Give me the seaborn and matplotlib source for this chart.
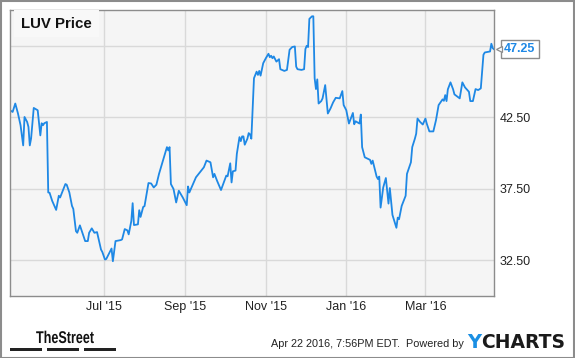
import matplotlib
matplotlib.use("Agg")
import matplotlib.pyplot as plt
import matplotlib.transforms as mtransforms
from matplotlib.patches import Rectangle, PathPatch
from matplotlib.textpath import TextPath
from matplotlib.font_manager import FontProperties
import pandas as pd
import seaborn as sns

# ---------------- data ----------------
dates = [
    "2015-04-21", "2015-04-23", "2015-04-25", "2015-04-27", "2015-04-29", "2015-05-01", "2015-05-02",
    "2015-05-04", "2015-05-05", "2015-05-06", "2015-05-07", "2015-05-09", "2015-05-12", "2015-05-14",
    "2015-05-15", "2015-05-16", "2015-05-17", "2015-05-19", "2015-05-20", "2015-05-21", "2015-05-23",
    "2015-05-26", "2015-05-28", "2015-05-29", "2015-06-02", "2015-06-03", "2015-06-05", "2015-06-07",
    "2015-06-08", "2015-06-10", "2015-06-11", "2015-06-13", "2015-06-14", "2015-06-17", "2015-06-19",
    "2015-06-20", "2015-06-22", "2015-06-24", "2015-06-26", "2015-06-29", "2015-06-30", "2015-07-02",
    "2015-07-03", "2015-07-07", "2015-07-08", "2015-07-10", "2015-07-14", "2015-07-15", "2015-07-17",
    "2015-07-19", "2015-07-20", "2015-07-22", "2015-07-23", "2015-07-24", "2015-07-27", "2015-07-28",
    "2015-07-29", "2015-07-31", "2015-08-01", "2015-08-04", "2015-08-06", "2015-08-08", "2015-08-10",
    "2015-08-12", "2015-08-18", "2015-08-19", "2015-08-20", "2015-08-21", "2015-08-23", "2015-08-25",
    "2015-08-27", "2015-08-30", "2015-09-01", "2015-09-02", "2015-09-03", "2015-09-04", "2015-09-09",
    "2015-09-12", "2015-09-15", "2015-09-17", "2015-09-20", "2015-09-22", "2015-09-23", "2015-09-25",
    "2015-09-28", "2015-10-02", "2015-10-03", "2015-10-05", "2015-10-06", "2015-10-07", "2015-10-09",
    "2015-10-10", "2015-10-12", "2015-10-13", "2015-10-14", "2015-10-15", "2015-10-16", "2015-10-18",
    "2015-10-19", "2015-10-20", "2015-10-21", "2015-10-23", "2015-10-25", "2015-10-26", "2015-10-27",
    "2015-10-28", "2015-10-30", "2015-11-01", "2015-11-03", "2015-11-04", "2015-11-05", "2015-11-06",
    "2015-11-07", "2015-11-09", "2015-11-11", "2015-11-12", "2015-11-15", "2015-11-17", "2015-11-19",
    "2015-11-21", "2015-11-23", "2015-11-24", "2015-11-25", "2015-11-28", "2015-11-30", "2015-12-01",
    "2015-12-02", "2015-12-03", "2015-12-04", "2015-12-06", "2015-12-07", "2015-12-08", "2015-12-09",
    "2015-12-10", "2015-12-11", "2015-12-13", "2015-12-14", "2015-12-16", "2015-12-18", "2015-12-20",
    "2015-12-22", "2015-12-24", "2015-12-27", "2015-12-29", "2015-12-30", "2016-01-01", "2016-01-03",
    "2016-01-06", "2016-01-07", "2016-01-08", "2016-01-11", "2016-01-12", "2016-01-13", "2016-01-15",
    "2016-01-19", "2016-01-20", "2016-01-21", "2016-01-24", "2016-01-25", "2016-01-26", "2016-01-27",
    "2016-01-29", "2016-01-31", "2016-02-02", "2016-02-03", "2016-02-05", "2016-02-08", "2016-02-09",
    "2016-02-10", "2016-02-12", "2016-02-15", "2016-02-16", "2016-02-19", "2016-02-20", "2016-02-22",
    "2016-02-23", "2016-02-24", "2016-02-26", "2016-02-28", "2016-03-01", "2016-03-02", "2016-03-04",
    "2016-03-07", "2016-03-09", "2016-03-11", "2016-03-14", "2016-03-15", "2016-03-16", "2016-03-17",
    "2016-03-18", "2016-03-20", "2016-03-22", "2016-03-23", "2016-03-27", "2016-03-29", "2016-03-31",
    "2016-04-03", "2016-04-04", "2016-04-06", "2016-04-08", "2016-04-10", "2016-04-12", "2016-04-14",
    "2016-04-15", "2016-04-19", "2016-04-20", "2016-04-21", "2016-04-22",
]
prices = [
    42.99, 42.87, 43.46, 42.78, 41.94, 40.53, 42.52,
    42.17, 41.82, 40.53, 41.02, 43.15, 42.99, 41.23,
    42.08, 41.94, 42.08, 42.17, 37.24, 37.22, 36.65,
    36.02, 37.01, 36.89, 37.83, 37.78, 37.24, 36.30,
    36.09, 34.54, 34.42, 34.94, 34.66, 33.84, 33.84,
    34.42, 34.73, 34.42, 34.47, 33.25, 33.08, 32.55,
    32.59, 33.32, 32.43, 33.84, 33.91, 33.96, 34.68,
    34.59, 34.31, 35.25, 36.49, 34.96, 35.01, 36.00,
    35.53, 36.23, 36.28, 37.90, 37.87, 37.59, 37.78,
    38.54, 40.41, 40.18, 40.41, 37.83, 37.48, 36.54,
    37.36, 36.89, 36.54, 36.35, 37.66, 37.24, 38.30,
    38.65, 39.00, 39.47, 39.35, 38.30, 38.54, 38.06,
    37.41, 38.42, 38.37, 39.28, 37.94, 38.72, 38.77,
    39.94, 41.11, 40.83, 41.16, 41.16, 40.58, 41.00,
    41.39, 41.30, 41.00, 45.23, 45.69, 45.46, 45.74,
    45.41, 46.28, 46.63, 46.94, 46.70, 46.80, 46.63,
    46.75, 46.39, 46.56, 45.86, 45.74, 45.81, 47.22,
    47.41, 47.45, 46.04, 45.86, 45.81, 45.86, 47.27,
    47.50, 47.41, 49.38, 49.56, 49.56, 45.23, 44.47,
    45.15, 43.46, 43.63, 43.82, 44.75, 42.76, 43.11,
    43.54, 43.86, 43.82, 44.33, 43.35, 42.99, 42.06,
    42.80, 42.01, 42.22, 42.06, 42.69, 40.41, 39.70,
    39.52, 39.24, 39.47, 38.35, 38.18, 38.35, 36.18,
    37.59, 38.25, 36.46, 37.55, 35.67, 34.77, 35.48,
    35.37, 36.30, 37.01, 38.54, 39.35, 40.41, 41.00,
    41.35, 42.41, 42.17, 41.99, 42.41, 42.06, 41.51,
    41.51, 42.29, 43.35, 43.75, 43.65, 44.05, 43.63,
    44.45, 44.94, 44.45, 44.10, 43.82, 44.94, 44.59,
    44.28, 43.63, 43.63, 44.47, 44.40, 44.52, 46.87,
    47.03, 47.10, 47.64, 47.34, 47.25,
]
y_ticks = [32.5, 37.5, 42.5, 47.5]
# the 47.50 label is hidden behind the last-value box in the reference
y_tick_labels = ["32.50", "37.50", "42.50", ""]
x_ticks = ["2015-07-01", "2015-09-01", "2015-11-01", "2016-01-01", "2016-03-01"]
x_tick_labels = ["Jul '15", "Sep '15", "Nov '15", "Jan '16", "Mar '16"]
title = "LUV Price"
last_label = "47.25"
footer_text = "Apr 22 2016, 7:56PM EDT.  Powered by"

df = pd.DataFrame({"date": pd.to_datetime(dates), "price": prices})

# ---------------- style ----------------
sns.set_style("white", rc={
    "axes.facecolor": "#f5f5f5",
    "grid.color": "#d9d9d9",
    "axes.edgecolor": "#8c8c8c",
})
plt.rcParams["font.family"] = ["Liberation Sans", "DejaVu Sans"]

W, H = 575, 358
fig = plt.figure(figsize=(W / 100, H / 100), dpi=100)
fig.patch.set_facecolor("white")
ax = fig.add_axes([10 / W, 1 - 296 / H, 484 / W, 286 / H])

line_color = "#1e88e5"
sns.lineplot(data=df, x="date", y="price", ax=ax, color=line_color,
             linewidth=1.3, legend=False)

ax.set_xlim(pd.Timestamp(dates[0]), pd.Timestamp(dates[-1]))
ax.set_ylim(30, 50)

ax.set_yticks(y_ticks)
ax.set_yticklabels(y_tick_labels)
ax.yaxis.tick_right()
ax.set_xticks(pd.to_datetime(x_ticks))
ax.set_xticklabels(x_tick_labels)
ax.tick_params(axis="both", length=0, labelsize=9, colors="#222222")
ax.tick_params(axis="y", pad=4)
ax.tick_params(axis="x", pad=3.5)
ax.grid(True, color="#d9d9d9", linewidth=1.0)
ax.set_axisbelow(True)
ax.set_xlabel("")
ax.set_ylabel("")
for s in ax.spines.values():
    s.set_visible(True)
    s.set_color("#8c8c8c")
    s.set_linewidth(1.0)

# title inside the plot
ax.text(11 / 484, 1 - 13.5 / 286, title, transform=ax.transAxes, fontsize=10.8,
        fontweight="bold", color="#111111", va="center", ha="left",
        bbox=dict(boxstyle="square,pad=0.45", facecolor="#f8f8f8", edgecolor="none"),
        zorder=5)

# last value label
last_y = prices[-1]
trans = mtransforms.blended_transform_factory(ax.transAxes, ax.transData)
ax.text(1.0 + 10 / 484, last_y, last_label, transform=trans, fontsize=9,
        fontweight="bold", color=line_color, va="center", ha="left",
        bbox=dict(boxstyle="square,pad=0.25", facecolor="white", edgecolor="#8c8c8c",
                  linewidth=1.0), clip_on=False, zorder=6)
ax.plot([1.0 + 4.5 / 484], [last_y], transform=trans, marker="<", markersize=5,
        markerfacecolor="white", markeredgecolor="#8c8c8c", markeredgewidth=0.9,
        clip_on=False, zorder=7)

# footer: "TheStreet" logo text, horizontally condensed
fp = FontProperties(family="Liberation Sans", weight="bold")
tp = TextPath((0, 0), "TheStreet", size=17, prop=fp)
logo_tf = mtransforms.Affine2D().scale(0.74, 1.0).translate(36, H - 343) + mtransforms.IdentityTransform()
fig.patches.append(PathPatch(tp, transform=logo_tf, facecolor="#111111", edgecolor="none"))
for x0, x1 in [(10, 42), (47, 79), (84, 116)]:
    fig.patches.append(Rectangle((x0 / W, 1 - 351 / H), (x1 - x0) / W, 3.5 / H,
                                 transform=fig.transFigure, facecolor="#222222",
                                 edgecolor="none"))
fig.text(464 / W, 1 - 344 / H, footer_text, fontsize=7.8, color="#222222",
         va="center", ha="right")
fig.text(467 / W, 1 - 342 / H, "Y", fontsize=14, fontweight="bold", color="#1a8fe3",
         family=["DejaVu Sans"], va="center", ha="left")
fig.text(481 / W, 1 - 342 / H, "CHARTS", fontsize=13.5, fontweight="bold", color="#1a1a1a",
         family=["DejaVu Sans"], va="center", ha="left")

# outer border
fig.patches.append(Rectangle((0.5 / W, 0.5 / H), (W - 1.5) / W, (H - 1.5) / H,
                             transform=fig.transFigure, facecolor="none",
                             edgecolor="#8c8c8c", linewidth=1.5))

fig.savefig("out.png", dpi=100)
